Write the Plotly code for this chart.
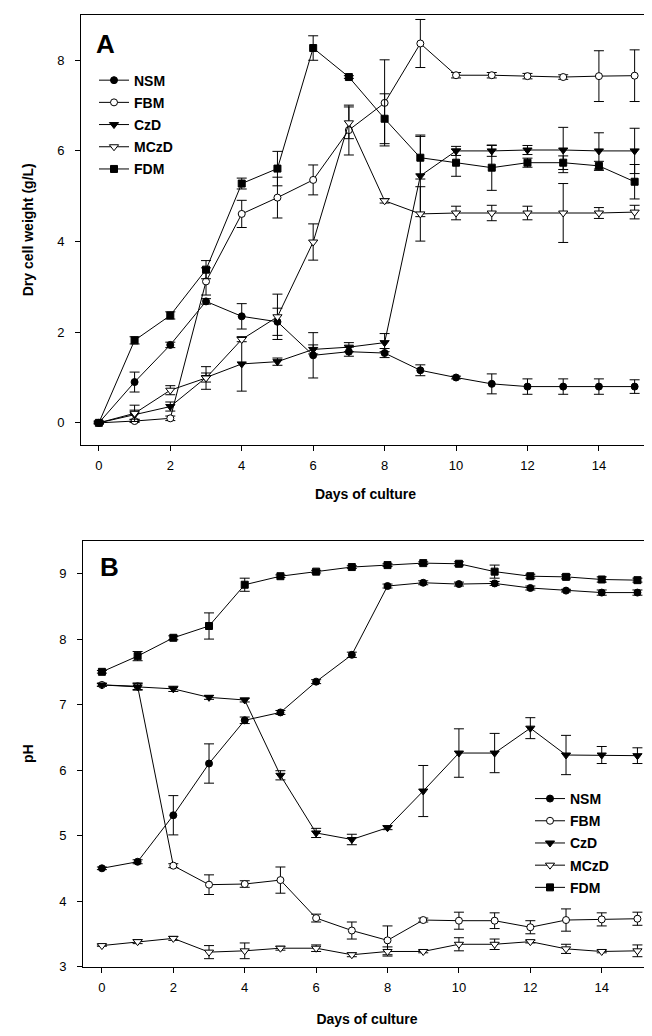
import plotly.graph_objects as go

days = list(range(16))

# Panel A: dry cell weight (g/L)
nsm_a = [0, 0.90, 1.72, 2.68, 2.35, 2.23, 1.49, 1.57, 1.54, 1.16, 1.0, 0.86, 0.80, 0.80, 0.80, 0.80]
nsm_a_err = [0.02, 0.22, 0.06, 0.06, 0.28, 0.3, 0.5, 0.1, 0.1, 0.12, 0.03, 0.22, 0.17, 0.17, 0.17, 0.15]
fbm_a = [0, 0.04, 0.1, 3.12, 4.61, 4.97, 5.36, 6.46, 7.06, 8.37, 7.67, 7.67, 7.65, 7.63, 7.65, 7.66]
fbm_a_err = [0.02, 0.03, 0.05, 0.3, 0.3, 0.45, 0.33, 0.55, 0.95, 0.53, 0.06, 0.06, 0.06, 0.05, 0.56, 0.57]
czd_a = [0, 0.18, 0.36, 1.0, 1.3, 1.35, 1.62, 1.67, 1.77, 5.45, 6.0, 6.0, 6.02, 6.02, 6.0, 6.0]
czd_a_err = [0.02, 0.1, 0.1, 0.1, 0.6, 0.08, 0.1, 0.1, 0.2, 0.9, 0.1, 0.12, 0.1, 0.5, 0.4, 0.5]
mczd_a = [0, 0.21, 0.72, 0.99, 1.84, 2.34, 3.99, 6.62, 4.90, 4.61, 4.63, 4.63, 4.63, 4.63, 4.63, 4.65]
mczd_a_err = [0.02, 0.18, 0.1, 0.25, 0.05, 0.5, 0.4, 0.35, 0.05, 0.6, 0.15, 0.17, 0.15, 0.65, 0.12, 0.15]
fdm_a = [0, 1.82, 2.37, 3.38, 5.28, 5.61, 8.27, 7.63, 6.71, 5.85, 5.74, 5.63, 5.74, 5.74, 5.67, 5.32]
fdm_a_err = [0.02, 0.08, 0.08, 0.2, 0.12, 0.38, 0.27, 0.03, 0.55, 0.47, 0.3, 0.5, 0.1, 0.15, 0.1, 0.38]

# Panel B: pH
nsm_b = [4.5, 4.6, 5.31, 6.1, 6.76, 6.88, 7.35, 7.76, 8.81, 8.86, 8.84, 8.85, 8.78, 8.74, 8.71, 8.71]
nsm_b_err = [0.02, 0.03, 0.3, 0.3, 0.05, 0.03, 0.03, 0.04, 0.03, 0.03, 0.03, 0.03, 0.03, 0.02, 0.04, 0.04]
fbm_b = [7.3, 7.28, 4.54, 4.25, 4.26, 4.32, 3.74, 3.55, 3.40, 3.71, 3.70, 3.70, 3.60, 3.71, 3.72, 3.73]
fbm_b_err = [0.02, 0.05, 0.03, 0.15, 0.05, 0.2, 0.06, 0.13, 0.22, 0.03, 0.13, 0.12, 0.1, 0.17, 0.1, 0.1]
czd_b = [7.3, 7.27, 7.24, 7.11, 7.07, 5.92, 5.04, 4.94, 5.12, 5.68, 6.26, 6.26, 6.64, 6.23, 6.23, 6.22]
czd_b_err = [0.02, 0.05, 0.04, 0.03, 0.03, 0.07, 0.07, 0.08, 0.03, 0.39, 0.37, 0.3, 0.16, 0.3, 0.13, 0.12]
mczd_b = [3.32, 3.38, 3.43, 3.22, 3.24, 3.28, 3.28, 3.18, 3.23, 3.23, 3.34, 3.34, 3.38, 3.27, 3.23, 3.24]
mczd_b_err = [0.01, 0.03, 0.03, 0.1, 0.12, 0.03, 0.05, 0.03, 0.07, 0.02, 0.1, 0.08, 0.02, 0.07, 0.02, 0.09]
fdm_b = [7.5, 7.74, 8.02, 8.2, 8.83, 8.96, 9.03, 9.1, 9.13, 9.16, 9.15, 9.03, 8.96, 8.95, 8.91, 8.9]
fdm_b_err = [0.02, 0.07, 0.03, 0.2, 0.1, 0.02, 0.02, 0.02, 0.02, 0.02, 0.03, 0.1, 0.03, 0.03, 0.04, 0.03]

names = ["NSM", "FBM", "CzD", "MCzD", "FDM"]
symbols = ["circle", "circle", "triangle-down", "triangle-down", "square"]
fills = ["black", "white", "black", "white", "black"]
sizes = [7, 7, 8, 8, 7]

series_a = [(nsm_a, nsm_a_err), (fbm_a, fbm_a_err), (czd_a, czd_a_err), (mczd_a, mczd_a_err), (fdm_a, fdm_a_err)]
series_b = [(nsm_b, nsm_b_err), (fbm_b, fbm_b_err), (czd_b, czd_b_err), (mczd_b, mczd_b_err), (fdm_b, fdm_b_err)]

FONT = "Arial, Liberation Sans, sans-serif"
fig = go.Figure()

for panel, series, xa, ya, lg in [("A", series_a, "x", "y", "legend"), ("B", series_b, "x2", "y2", "legend2")]:
    for i, (vals, errs) in enumerate(series):
        fig.add_trace(go.Scatter(
            x=days, y=vals, name="<b>" + names[i] + "</b>", mode="lines+markers",
            xaxis=xa, yaxis=ya, legend=lg, legendgroup=panel + names[i],
            line=dict(color="black", width=1),
            marker=dict(symbol=symbols[i], size=sizes[i], color=fills[i],
                        line=dict(color="black", width=1)),
            error_y=dict(type="data", array=errs, color="black", thickness=1, width=5),
        ))

W, H = 652, 1036
axis_common = dict(showline=True, linecolor="black", linewidth=1, mirror=True,
                   ticks="outside", ticklen=5, tickcolor="black", showgrid=False,
                   zeroline=False, tickfont=dict(family=FONT, size=13, color="black"))

fig.update_layout(
    width=W, height=H, margin=dict(l=0, r=0, t=0, b=0),
    paper_bgcolor="white", plot_bgcolor="white",
    font=dict(family=FONT, color="black"),
    xaxis=dict(domain=[73 / W, 642 / W], range=[-0.5, 15.43], tickvals=[0, 2, 4, 6, 8, 10, 12, 14],
               anchor="y", ticklabelstandoff=4,
               title=dict(text="<b>Days of culture</b>", font=dict(size=14, family=FONT), standoff=16),
               **axis_common),
    yaxis=dict(domain=[1 - 440 / H, 1 - 7 / H], range=[-0.48, 9.0], tickvals=[0, 2, 4, 6, 8],
               anchor="x", ticklabelstandoff=8,
               title=dict(text="<b>Dry cell weight (g/L)</b>", font=dict(size=14, family=FONT), standoff=20),
               **axis_common),
    xaxis2=dict(domain=[75 / W, 643 / W], range=[-0.53, 15.38], tickvals=[0, 2, 4, 6, 8, 10, 12, 14],
                anchor="y2", ticklabelstandoff=4,
                title=dict(text="<b>Days of culture</b>", font=dict(size=14, family=FONT), standoff=20),
                **axis_common),
    yaxis2=dict(domain=[1 - 966 / H, 1 - 537 / H], range=[3, 9.5], tickvals=[3, 4, 5, 6, 7, 8, 9],
                anchor="x2", ticklabelstandoff=8,
                title=dict(text="<b>pH</b>", font=dict(size=14, family=FONT), standoff=22),
                **axis_common),
    legend=dict(x=86 / W, y=1 - 57 / H, xanchor="left", yanchor="top", bgcolor="rgba(0,0,0,0)",
                font=dict(family=FONT, size=14, color="black"), tracegroupgap=1),
    legend2=dict(x=522 / W, y=1 - 781 / H, xanchor="left", yanchor="top", bgcolor="rgba(0,0,0,0)",
                 font=dict(family=FONT, size=14, color="black"), tracegroupgap=1),
    showlegend=True,
    annotations=[
        dict(text="<b>A</b>", x=86 / W, y=1 - 36 / H, xref="paper", yref="paper", xanchor="left",
             yanchor="middle", showarrow=False, font=dict(family=FONT, size=26, color="black")),
        dict(text="<b>B</b>", x=90 / W, y=1 - 563 / H, xref="paper", yref="paper", xanchor="left",
             yanchor="middle", showarrow=False, font=dict(family=FONT, size=26, color="black")),
    ],
)

fig.write_html("out.html")
